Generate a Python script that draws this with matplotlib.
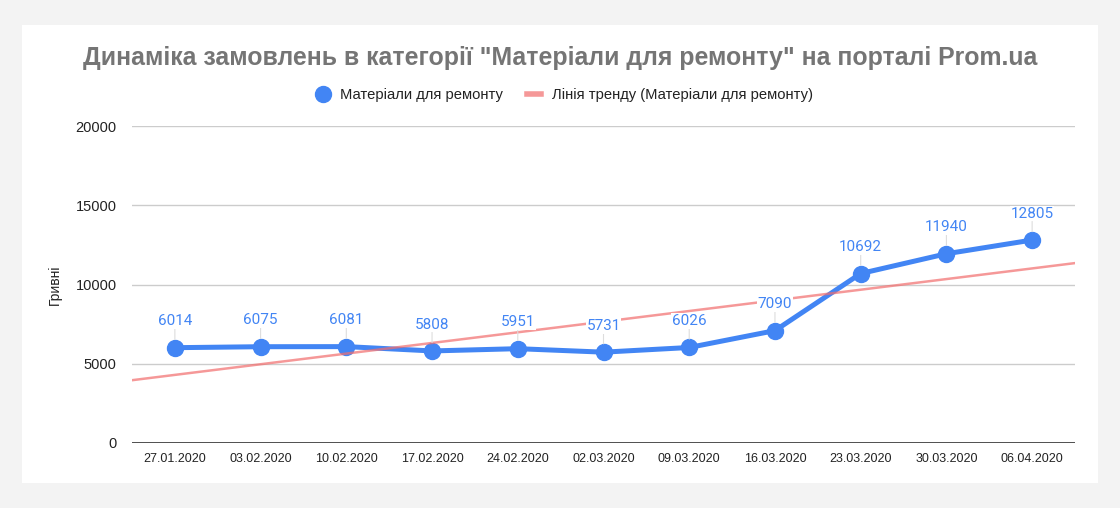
import numpy as np
import matplotlib.pyplot as plt
from matplotlib.patches import Rectangle
from matplotlib.lines import Line2D

# data
dates = ["27.01.2020", "03.02.2020", "10.02.2020", "17.02.2020", "24.02.2020",
         "02.03.2020", "09.03.2020", "16.03.2020", "23.03.2020", "30.03.2020",
         "06.04.2020"]
orders = [6014, 6075, 6081, 5808, 5951, 5731, 6026, 7090, 10692, 11940, 12805]

TITLE = 'Динаміка замовлень в категорії "Матеріали для ремонту" на порталі Prom.ua'
SERIES = "Матеріали для ремонту"
TREND = "Лінія тренду (Матеріали для ремонту)"

BLUE = "#4285f4"
TREND_C = "#f26d6d"
W, H = 1120, 508

plt.rcParams["font.family"] = ["Liberation Sans", "DejaVu Sans"]

fig = plt.figure(figsize=(W / 100, H / 100), dpi=100)
fig.patch.set_facecolor("#f3f3f3")
fig.add_artist(Rectangle((22 / W, 1 - 483 / H), (1098 - 22) / W, (483 - 25) / H,
                         transform=fig.transFigure, facecolor="white",
                         edgecolor="none", zorder=0))

ax = fig.add_axes([132 / W, 65 / H, (1075 - 132) / W, (443 - 126) / H])
ax.set_facecolor("none")

x = np.arange(len(orders))
ax.plot(x, orders, color=BLUE, lw=3.6, marker="o", ms=11.5, zorder=3,
        solid_capstyle="round")

# linear trend across the whole axis
k, b = np.polyfit(x, orders, 1)
xt = np.array([-0.5, len(orders) - 0.5])
ax.plot(xt, k * xt + b, color=TREND_C, lw=1.8, alpha=0.7, zorder=4)

for xi, v in zip(x, orders):
    ax.annotate(f"{v}", xy=(xi, v), xytext=(0, 19), textcoords="offset points",
                ha="center", va="center", fontsize=11, color=BLUE,
                family=["Roboto", "DejaVu Sans"], zorder=5,
                bbox=dict(boxstyle="square,pad=0.05", fc="white", ec="none"),
                arrowprops=dict(arrowstyle="-", color="#dddddd", lw=0.8,
                                shrinkA=0, shrinkB=6))

ax.set_xlim(-0.5, len(orders) - 0.5)
ax.set_ylim(0, 20000)
ax.set_yticks([0, 5000, 10000, 15000, 20000])
ax.set_xticks(x)
ax.set_xticklabels(dates)
ax.grid(axis="y", color="#cccccc", lw=1)
ax.set_axisbelow(True)
for s in ax.spines.values():
    s.set_visible(False)
ax.axhline(0, color="#333333", lw=1.2, zorder=2)
ax.tick_params(axis="both", length=0, colors="#222222")
ax.tick_params(axis="y", labelsize=10.5, pad=11)
ax.tick_params(axis="x", labelsize=9, pad=7)

fig.text(0.5, 1 - 58 / H, TITLE, ha="center", va="center", fontsize=17.9,
         fontweight="bold", color="#757575")
fig.text(55 / W, 1 - 285 / H, "Гривні", rotation=90, ha="center",
         va="center", fontsize=10, color="#222222")

handles = [
    Line2D([], [], color=BLUE, marker="o", ms=11.5, lw=0),
    Line2D([], [], color=TREND_C, lw=4, alpha=0.7),
]
fig.legend(handles, [SERIES, TREND], loc="center", ncol=2, frameon=False,
           bbox_to_anchor=(564 / W, 1 - 95 / H), fontsize=10.6,
           handlelength=1.0, columnspacing=1.6, handletextpad=0.7,
           labelcolor="#222222")

fig.savefig("out.png", dpi=100, facecolor=fig.get_facecolor())
